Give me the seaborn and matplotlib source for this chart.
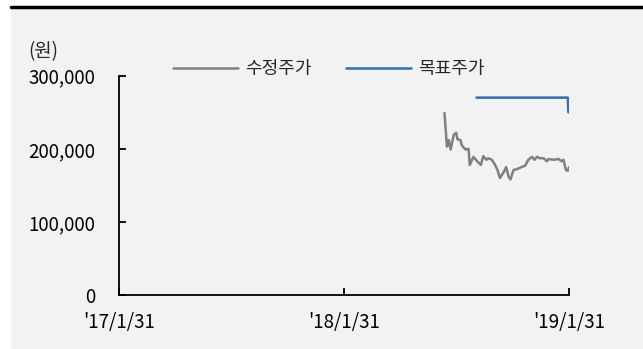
import matplotlib
matplotlib.use('Agg')
import pandas as pd
import seaborn as sns
from matplotlib import pyplot as plt
from matplotlib.lines import Line2D
from matplotlib.patches import Rectangle
import matplotlib.ticker as mticker

# 수정주가 (adjusted price)
price_dates = [
    "2018-07-13", "2018-07-17", "2018-07-20", "2018-07-23", "2018-07-28",
    "2018-08-01", "2018-08-03", "2018-08-08", "2018-08-10", "2018-08-16",
    "2018-08-21", "2018-08-23", "2018-08-29", "2018-09-04", "2018-09-10",
    "2018-09-14", "2018-09-19", "2018-09-22", "2018-09-28", "2018-10-03",
    "2018-10-07", "2018-10-11", "2018-10-17", "2018-10-21", "2018-10-25",
    "2018-10-28", "2018-11-02", "2018-11-07", "2018-11-15", "2018-11-21",
    "2018-11-26", "2018-12-02", "2018-12-06", "2018-12-10", "2018-12-15",
    "2018-12-21", "2018-12-26", "2018-12-29", "2019-01-06", "2019-01-14",
    "2019-01-19", "2019-01-22", "2019-01-26", "2019-01-29", "2019-01-31",
]
price_values = [
    249000, 203000, 212000, 199000, 219000,
    222000, 213000, 212000, 205000, 199000,
    200000, 178000, 189000, 183000, 178000,
    190000, 185000, 187000, 185000, 178000,
    171000, 160000, 168000, 175000, 162000,
    158000, 171000, 172000, 175000, 177000,
    185000, 189000, 185000, 189000, 187000,
    187000, 183000, 186000, 185000, 186000,
    183000, 185000, 171000, 170000, 175000,
]

# 목표주가 (target price)
target_dates = ["2018-09-03", "2019-01-29", "2019-01-30"]
target_values = [270000, 270000, 250000]

y_ticks = [0, 100000, 200000, 300000]
x_ticks = ["2017-01-31", "2018-01-31", "2019-01-31"]
x_ticklabels = ["'17/1/31", "'18/1/31", "'19/1/31"]

price = pd.DataFrame({"date": pd.to_datetime(price_dates), "value": price_values})
target = pd.DataFrame({"date": pd.to_datetime(target_dates), "value": target_values})

sns.set_style("white")
plt.rcParams['font.family'] = ['Noto Sans CJK KR', 'DejaVu Sans']
fs = 13.5

fig = plt.figure(figsize=(6.43, 3.49), dpi=100, facecolor="white")
fig.patches.append(Rectangle((11 / 643, 0), 1, 341 / 349, transform=fig.transFigure,
                             facecolor="#f2f2f2", edgecolor="none", zorder=-10))
fig.lines.append(Line2D([11 / 643, 1], [342 / 349, 342 / 349], transform=fig.transFigure,
                        color="black", linewidth=2.5))

ax = fig.add_axes([119 / 643, 54 / 349, 450 / 643, 219.3 / 349])
ax.set_facecolor("none")

sns.lineplot(data=price, x="date", y="value", ax=ax, color="#808080", linewidth=1.8,
             label="수정주가")
sns.lineplot(data=target, x="date", y="value", ax=ax, color="#2e6fad", linewidth=1.8,
             label="목표주가")

ax.set_xlim(pd.Timestamp(x_ticks[0]), pd.Timestamp(x_ticks[-1]))
ax.set_ylim(0, 300000)
ax.set_xticks(pd.to_datetime(x_ticks))
ax.set_xticklabels(x_ticklabels)
ax.set_yticks(y_ticks)
ax.yaxis.set_major_formatter(mticker.FuncFormatter(lambda v, p: f"{int(v):,}"))
ax.set_xlabel("")
ax.set_ylabel("")

for side in ["top", "right"]:
    ax.spines[side].set_visible(False)
for side in ["left", "bottom"]:
    ax.spines[side].set_color("black")
    ax.spines[side].set_linewidth(1.3)
ax.tick_params(axis="both", direction="in", length=5, width=1.3, color="black",
               labelsize=fs, labelcolor="black", bottom=True, left=True)
ax.tick_params(axis="y", pad=17)
ax.tick_params(axis="x", pad=12)

fig.text(28 / 643, 1 - 52 / 349, "(원)", fontsize=fs, va="center", ha="left")

leg = ax.legend(loc="center left", bbox_to_anchor=(173 / 643, 1 - 69 / 349),
                bbox_transform=fig.transFigure, ncol=2, frameon=False,
                fontsize=13, handlelength=3.6, handletextpad=0.4,
                columnspacing=1.9, borderpad=0, borderaxespad=0)

fig.savefig("out.png", dpi=100, facecolor=fig.get_facecolor())
